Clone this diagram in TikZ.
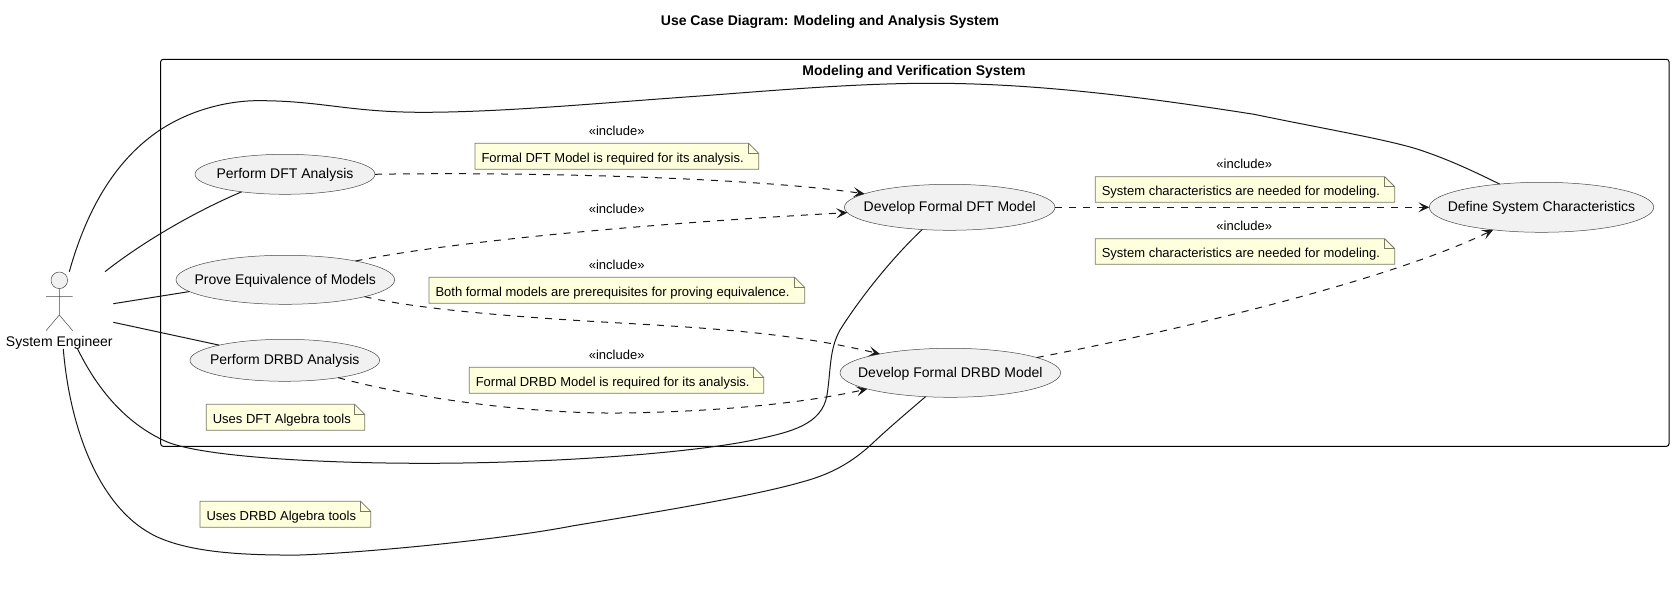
\documentclass[tikz,border=0pt]{standalone}
\usepackage{fontspec}
\setmainfont{Liberation Sans}
\usetikzlibrary{shapes.geometric,arrows.meta}
\definecolor{lineblack}{HTML}{181818}
\definecolor{thingrey}{HTML}{484848}
\definecolor{casefill}{HTML}{F1F1F1}
\definecolor{notefill}{HTML}{FEFFDD}
\definecolor{noteline}{HTML}{7A7A68}
\newcommand{\zerotext}[1]{\makebox[0pt][c]{\raisebox{-4.4pt}[0pt][0pt]{#1}}}
\tikzset{
  x=1pt,y=-1pt,
  txt/.style={inner sep=0pt,outer sep=0pt,text=black,font=\fontsize{13}{15}\selectfont},
  boldtxt/.style={txt,font=\fontsize{14}{16}\selectfont\bfseries},
  casetxt/.style={txt,font=\fontsize{14}{16}\selectfont},
  usecase/.style={ellipse,draw=thingrey,fill=casefill,line width=0.5pt,inner sep=0pt,outer sep=0pt,text=black,font=\fontsize{14}{16}\selectfont},
  noteshape/.style={draw=noteline,fill=notefill,line width=0.8pt,line join=miter},
  notefold/.style={draw=noteline,line width=0.8pt},
  notetxt/.style={txt,anchor=base west},
  sysbox/.style={draw=black,line width=1pt,rounded corners=2.5pt},
  stick/.style={draw=thingrey,line width=0.5pt},
  assoc/.style={draw=lineblack,line width=1pt},
  incl/.style={draw=lineblack,line width=1pt,dash pattern=on 7pt off 7pt,-{Stealth[length=11pt,width=10pt,inset=5pt]}},
}
\newcommand{\notebox}[6]{%
  \path[noteshape] (#2,#3) -- ({#4-10},#3) -- (#4,{#3+10}) -- (#4,#5) -- (#2,#5) -- cycle;
  \path[notefold] ({#4-10},#3) -- ({#4-10},{#3+10}) -- (#4,{#3+10});
  \node[notetxt] (#1) at ({#2+6.5},{#5-7}) {#6};
}
\begin{document}
\begin{tikzpicture}
\useasboundingbox (0,0) rectangle (1674,601);
% titles and system frame
\node[boldtxt] (title) at (830,22) {Use Case Diagram: Modeling and Analysis System};
\path[sysbox] (160.7,59.3) rectangle (1669,446.3);
\node[boldtxt] (systitle) at (914,71.8) {Modeling and Verification System};
% actor
\draw[stick,fill=casefill] (59.3,280.3) circle[radius=8.3];
\path[stick] (59.3,288.6) -- (59.3,315) (46,296.3) -- (72.7,296.3)
  (46,330.7) -- (59.3,315) -- (72.7,330.7);
\node[casetxt] (engineer) at (59.3,342.8) {System Engineer};
\coordinate (a1) at (69.3,271.7);
\coordinate (a2) at (105,271.7);
\coordinate (a3) at (113.3,303.7);
\coordinate (a4) at (113.3,322.3);
\coordinate (a5) at (77.3,348.3);
\coordinate (a6) at (63.3,349);
% use cases
\node[usecase,minimum width=180pt,minimum height=40pt] (dftan) at (285,174.3) {\zerotext{Perform DFT Analysis}};
\node[usecase,minimum width=218.6pt,minimum height=49pt] (prove) at (285.3,279.8) {\zerotext{Prove Equivalence of Models}};
\node[usecase,minimum width=189.6pt,minimum height=42pt] (drbdan) at (284.8,360.3) {\zerotext{Perform DRBD Analysis}};
\node[usecase,minimum width=210.6pt,minimum height=46pt] (dftmod) at (949.7,207.3) {\zerotext{Develop Formal DFT Model}};
\node[usecase,minimum width=220.6pt,minimum height=49pt] (drbdmod) at (950.3,372.8) {\zerotext{Develop Formal DRBD Model}};
\node[usecase,minimum width=224.4pt,minimum height=50pt] (define) at (1541.5,207.3) {\zerotext{Define System Characteristics}};
% notes
\notebox{n1}{475}{143.3}{758.7}{169.3}{Formal DFT Model is required for its analysis.}
\notebox{n2}{429}{277.3}{804.7}{303.3}{Both formal models are prerequisites for proving equivalence.}
\notebox{n3}{469.3}{367.3}{763.7}{393.3}{Formal DRBD Model is required for its analysis.}
\notebox{n4}{1095.3}{176.7}{1394.7}{202.3}{System characteristics are needed for modeling.}
\notebox{n5}{1095.3}{238.7}{1394.7}{264.3}{System characteristics are needed for modeling.}
\notebox{n6}{206.3}{404.3}{364.7}{430.3}{Uses DFT Algebra tools}
\notebox{n7}{200}{501.3}{370.7}{527.3}{Uses DRBD Algebra tools}
% include labels
\node[txt] (l1) at (616.7,131) {«include»};
\node[txt] (l2) at (616.7,209) {«include»};
\node[txt] (l3) at (616.7,265) {«include»};
\node[txt] (l4) at (616.7,355) {«include»};
\node[txt] (l5) at (1244.3,163.6) {«include»};
\node[txt] (l6) at (1244.3,226) {«include»};
% include relations
\draw[incl] (dftan.east) .. controls (500,172) and (740,176) .. (dftmod.171.3);
\draw[incl] (prove.15.9) .. controls (450,242) and (640,224) .. (dftmod.183.4);
\draw[incl] (prove.-12.9) .. controls (420,310) and (530,318) .. (620,323)
  .. controls (730,329) and (800,335) .. (drbdmod.165.7);
\draw[incl] (drbdan.-18) .. controls (400,395) and (520,414) .. (620,413)
  .. controls (710,412) and (800,404) .. (drbdmod.191.7);
\draw[incl] (dftmod.east) -- (define.west);
\draw[incl] (drbdmod.10) .. controls (1180,330) and (1390,280) .. (define.205.9);
% actor associations
\draw[assoc] (a1) .. controls (88,205) and (118,158) .. (160,130)
  .. controls (195,107) and (235,100) .. (262,100.7)
  .. controls (320,101) and (350,112) .. (420,112.3)
  .. controls (500,112.5) and (600,103) .. (700,96)
  .. controls (780,90) and (860,83) .. (935,83.3)
  .. controls (1040,83.5) and (1150,98) .. (1254,114.3)
  .. controls (1320,128) and (1390,140) .. (1420,150)
  .. controls (1450,160) and (1475,172) .. (define.151.6);
\draw[assoc] (a2) .. controls (135,248) and (185,216) .. (dftan.202);
\draw[assoc] (a3) -- (prove.187.7);
\draw[assoc] (a4) -- (drbdan.167.3);
\draw[assoc] (a5) .. controls (100,395) and (130,425) .. (165,441)
  .. controls (195,455) and (300,463) .. (420,463.3)
  .. controls (560,463.5) and (700,452) .. (756.7,439.3)
  .. controls (790,432) and (822,425) .. (827,395)
  .. controls (831,370) and (829,350) .. (840,330)
  .. controls (862,295) and (895,255) .. (dftmod.219.4);
\draw[assoc] (a6) .. controls (70,430) and (100,510) .. (156.7,536.7)
  .. controls (190,552) and (240,555.5) .. (300,555)
  .. controls (360,553) and (500,540) .. (572,526)
  .. controls (650,513) and (750,497) .. (803,481.7)
  .. controls (835,473) and (855,460) .. (875,441)
  .. controls (890,427) and (910,410) .. (drbdmod.224.5);
\end{tikzpicture}
\end{document}
